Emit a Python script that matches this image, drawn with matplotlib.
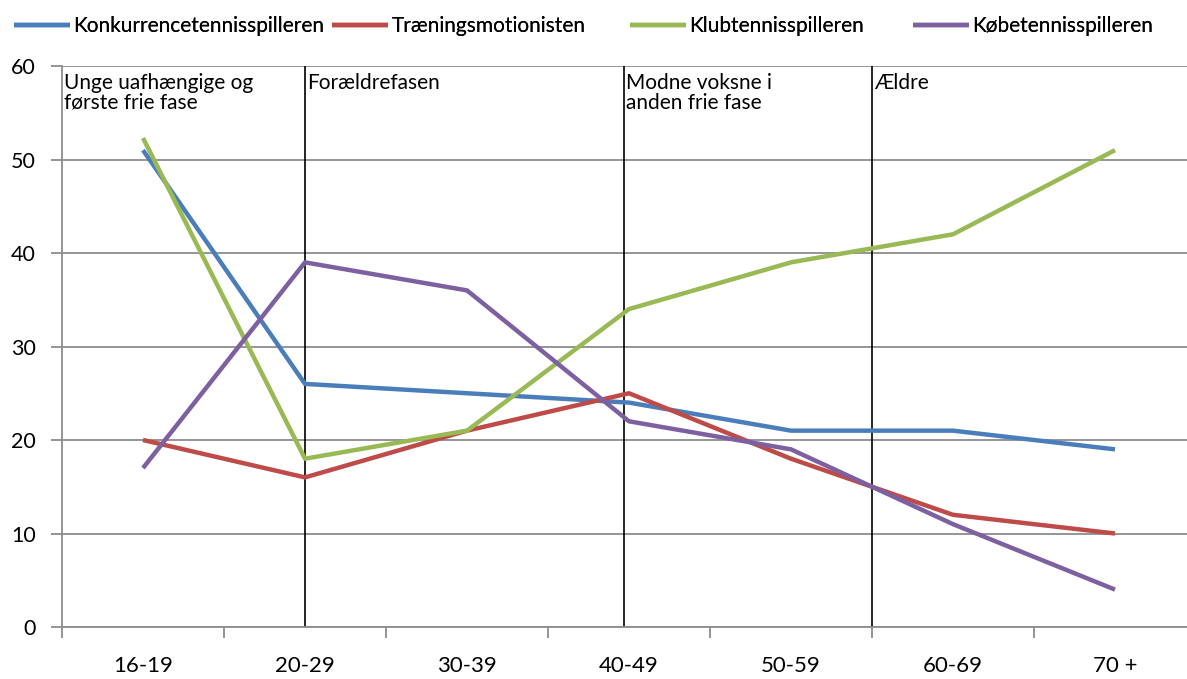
import matplotlib
matplotlib.use("Agg")
import matplotlib.pyplot as plt
from matplotlib.ticker import FixedLocator, NullFormatter

categories = ["16-19", "20-29", "30-39", "40-49", "50-59", "60-69", "70 +"]
konkurrence = [51, 26, 25, 24, 21, 21, 19]
traenings = [20, 16, 21, 25, 18, 12, 10]
klub = [52.3, 18, 21, 34, 39, 42, 51]
koebe = [17, 39, 36, 22, 19, 11, 4]
series_names = ["Konkurrencetennisspilleren", "Træningsmotionisten",
                "Klubtennisspilleren", "Købetennisspilleren"]
phase_labels = ["Unge uafhængige og\nførste frie fase", "Forældrefasen",
                "Modne voksne i\nanden frie fase", "Ældre"]
phase_starts = [-0.5, 1, 2.97, 4.5]
y_ticks = [0, 10, 20, 30, 40, 50, 60]

colors = ["#4A7EBB", "#BE4B48", "#98B954", "#7D60A0"]
FONT = "Lato"
plt.rcParams["font.family"] = [FONT, "DejaVu Sans"]

W, H = 1187, 679
fig = plt.figure(figsize=(W / 100, H / 100), dpi=100)
x0, x1 = 62, 1196
y0, y1 = 66, 627
ax = fig.add_axes([x0 / W, 1 - y1 / H, (x1 - x0) / W, (y1 - y0) / H])

xs = list(range(len(categories)))
handles = []
for vals, name, c in zip([konkurrence, traenings, klub, koebe], series_names, colors):
    h, = ax.plot(xs, vals, color=c, lw=3.2, label=name, solid_capstyle="butt", zorder=3)
    handles.append(h)

ax.set_xlim(-0.5, len(categories) - 0.5)
ax.set_ylim(0, 60)
ax.set_yticks(y_ticks)
ax.yaxis.grid(True, color="#8C8C8C", lw=1.3, zorder=0)
ax.set_axisbelow(True)

ax.xaxis.set_major_locator(FixedLocator([i - 0.5 for i in range(len(categories) + 1)]))
ax.xaxis.set_major_formatter(NullFormatter())
ax.xaxis.set_minor_locator(FixedLocator(xs))
ax.set_xticklabels(categories, minor=True)
ax.tick_params(axis="x", which="major", length=8, width=1.3, color="#8C8C8C", direction="out")
ax.tick_params(axis="x", which="minor", length=0, pad=21, labelsize=16)
ax.tick_params(axis="y", length=8, width=1.3, color="#8C8C8C", direction="out", pad=11, labelsize=15.5)

for s in ["top", "right"]:
    ax.spines[s].set_visible(False)
for s in ["left", "bottom"]:
    ax.spines[s].set_color("#8C8C8C")
    ax.spines[s].set_linewidth(1.3)

for xp, lab in zip(phase_starts, phase_labels):
    if xp > -0.5:
        ax.axvline(xp, color="black", lw=1.2, zorder=2)
    ax.text(xp + 0.012, 59.3, lab, ha="left", va="top", fontsize=15,
            linespacing=1.0, zorder=4)

legend_x = [14, 332, 630, 913]
for h, name, lx in zip(handles, series_names, legend_x):
    leg = fig.legend([h], [name], loc="center left", bbox_to_anchor=(lx / W, 1 - 26 / H),
                     frameon=False, fontsize=15, handlelength=2.7, handletextpad=0.15,
                     borderpad=0, borderaxespad=0)
    fig.add_artist(leg)

fig.savefig("out.png", dpi=100)
